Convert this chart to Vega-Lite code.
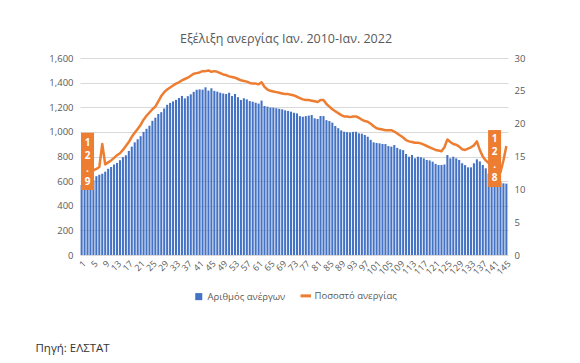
{
"$schema": "https://vega.github.io/schema/vega-lite/v6.json",
"width": 428, "height": 197,
"autosize": {"type": "none"},
"padding": {"left": 80, "top": 58, "right": 72, "bottom": 108},
"background": "white",
"title": {"text": "Εξέλιξη ανεργίας Ιαν. 2010-Ιαν. 2022", "font": "Open Sans", "fontSize": 12.5, "fontWeight": "normal", "color": "#595959", "offset": 8, "dx": -8, "anchor": "middle"},
"config": {"view": {"stroke": null}, "font": "Open Sans"},
"data": {"values": [
{"m":1,"u":569,"r":11.4},{"m":2,"u":578,"r":11.8},{"m":3,"u":585,"r":12.1},{"m":4,"u":595,"r":12.5},{"m":5,"u":605,"r":12.9},
{"m":6,"u":640,"r":13.1},{"m":7,"u":652,"r":13.4},{"m":8,"u":660,"r":16.9},{"m":9,"u":677,"r":13.8},{"m":10,"u":700,"r":14.1},
{"m":11,"u":715,"r":14.4},{"m":12,"u":735,"r":14.8},{"m":13,"u":748,"r":15.2},{"m":14,"u":770,"r":15.5},{"m":15,"u":795,"r":16.0},
{"m":16,"u":810,"r":16.6},{"m":17,"u":845,"r":17.2},{"m":18,"u":880,"r":18.0},{"m":19,"u":915,"r":18.6},{"m":20,"u":940,"r":19.2},
{"m":21,"u":965,"r":19.8},{"m":22,"u":1000,"r":20.6},{"m":23,"u":1025,"r":21.2},{"m":24,"u":1050,"r":21.7},{"m":25,"u":1090,"r":22.2},
{"m":26,"u":1115,"r":22.6},{"m":27,"u":1145,"r":23.4},{"m":28,"u":1160,"r":24.2},{"m":29,"u":1190,"r":24.8},{"m":30,"u":1220,"r":25.2},
{"m":31,"u":1235,"r":25.5},{"m":32,"u":1248,"r":25.8},{"m":33,"u":1260,"r":26.1},{"m":34,"u":1275,"r":26.3},{"m":35,"u":1292,"r":26.6},
{"m":36,"u":1272,"r":26.8},{"m":37,"u":1290,"r":27.0},{"m":38,"u":1305,"r":27.3},{"m":39,"u":1325,"r":27.6},{"m":40,"u":1342,"r":27.7},
{"m":41,"u":1345,"r":27.8},{"m":42,"u":1343,"r":28.0},{"m":43,"u":1362,"r":28.0},{"m":44,"u":1335,"r":28.1},{"m":45,"u":1354,"r":27.9},
{"m":46,"u":1333,"r":28.0},{"m":47,"u":1327,"r":27.9},{"m":48,"u":1318,"r":27.7},{"m":49,"u":1312,"r":27.5},{"m":50,"u":1308,"r":27.4},
{"m":51,"u":1318,"r":27.2},{"m":52,"u":1291,"r":27.1},{"m":53,"u":1308,"r":27.0},{"m":54,"u":1282,"r":26.8},{"m":55,"u":1259,"r":26.6},
{"m":56,"u":1273,"r":26.5},{"m":57,"u":1264,"r":26.4},{"m":58,"u":1250,"r":26.2},{"m":59,"u":1245,"r":26.1},{"m":60,"u":1237,"r":26.1},
{"m":61,"u":1230,"r":26.0},{"m":62,"u":1254,"r":26.3},{"m":63,"u":1210,"r":25.6},{"m":64,"u":1205,"r":25.2},{"m":65,"u":1198,"r":25.0},
{"m":66,"u":1197,"r":24.9},{"m":67,"u":1192,"r":24.8},{"m":68,"u":1188,"r":24.7},{"m":69,"u":1183,"r":24.6},{"m":70,"u":1175,"r":24.5},
{"m":71,"u":1170,"r":24.5},{"m":72,"u":1164,"r":24.4},{"m":73,"u":1155,"r":24.3},{"m":74,"u":1150,"r":24.1},{"m":75,"u":1128,"r":23.9},
{"m":76,"u":1123,"r":23.7},{"m":77,"u":1128,"r":23.6},{"m":78,"u":1132,"r":23.6},{"m":79,"u":1137,"r":23.5},{"m":80,"u":1110,"r":23.4},
{"m":81,"u":1105,"r":23.3},{"m":82,"u":1129,"r":23.6},{"m":83,"u":1128,"r":23.6},{"m":84,"u":1095,"r":23.0},{"m":85,"u":1088,"r":22.6},
{"m":86,"u":1075,"r":22.2},{"m":87,"u":1048,"r":21.9},{"m":88,"u":1030,"r":21.6},{"m":89,"u":1012,"r":21.3},{"m":90,"u":1001,"r":21.1},
{"m":91,"u":998,"r":21.1},{"m":92,"u":995,"r":21.0},{"m":93,"u":1000,"r":21.1},{"m":94,"u":1001,"r":21.1},{"m":95,"u":988,"r":20.9},
{"m":96,"u":985,"r":20.6},{"m":97,"u":975,"r":20.4},{"m":98,"u":961,"r":20.3},{"m":99,"u":935,"r":20.0},{"m":100,"u":915,"r":19.6},
{"m":101,"u":910,"r":19.3},{"m":102,"u":907,"r":19.2},{"m":103,"u":902,"r":19.1},{"m":104,"u":901,"r":19.0},{"m":105,"u":885,"r":19.0},
{"m":106,"u":880,"r":19.0},{"m":107,"u":893,"r":18.8},{"m":108,"u":870,"r":18.5},{"m":109,"u":858,"r":18.2},{"m":110,"u":852,"r":17.9},
{"m":111,"u":820,"r":17.5},{"m":112,"u":798,"r":17.3},{"m":113,"u":812,"r":17.2},{"m":114,"u":785,"r":17.1},{"m":115,"u":798,"r":17.1},
{"m":116,"u":794,"r":17.0},{"m":117,"u":785,"r":16.8},{"m":118,"u":772,"r":16.6},{"m":119,"u":768,"r":16.4},{"m":120,"u":758,"r":16.2},
{"m":121,"u":740,"r":16.0},{"m":122,"u":731,"r":15.9},{"m":123,"u":731,"r":15.8},{"m":124,"u":735,"r":16.4},{"m":125,"u":812,"r":17.6},
{"m":126,"u":785,"r":17.2},{"m":127,"u":798,"r":16.9},{"m":128,"u":785,"r":16.8},{"m":129,"u":772,"r":16.5},{"m":130,"u":745,"r":16.1},
{"m":131,"u":730,"r":16.0},{"m":132,"u":712,"r":16.2},{"m":133,"u":712,"r":16.4},{"m":134,"u":745,"r":16.7},{"m":135,"u":777,"r":17.3},
{"m":136,"u":760,"r":16.0},{"m":137,"u":731,"r":15.0},{"m":138,"u":704,"r":14.4},{"m":139,"u":660,"r":14.0},{"m":140,"u":623,"r":13.6},
{"m":141,"u":610,"r":13.2},{"m":142,"u":600,"r":12.9},{"m":143,"u":595,"r":12.6},{"m":144,"u":582,"r":14.4},{"m":145,"u":580,"r":16.6}
]},
"encoding": {
  "x": {"field": "m", "type": "ordinal",
        "scale": {"paddingInner": 0.3, "paddingOuter": 0.2},
        "axis": {"title": "Πηγή: ΕΛΣΤΑΤ", "titleX": -45, "titleY": 93, "titleAlign": "left", "titleBaseline": "middle", "titleFont": "Open Sans", "titleFontSize": 11.5, "titleFontWeight": "normal", "titleColor": "#333333",
                 "values": [1,5,9,13,17,21,25,29,33,37,41,45,49,53,57,61,65,69,73,77,81,85,89,93,97,101,105,109,113,117,121,125,129,133,137,141,145],
                 "labelAngle": -45, "labelFontSize": 9, "labelColor": "#595959", "labelPadding": 4, "labelOverlap": false, "ticks": false, "domain": false, "grid": false}}
},
"layer": [
  {"mark": {"type": "bar"},
   "encoding": {
     "y": {"field": "u", "type": "quantitative", "scale": {"domain": [0, 1600]},
           "axis": {"title": null, "values": [0,200,400,600,800,1000,1200,1400,1600], "format": ",d", "labelFontSize": 9.5, "labelColor": "#595959", "labelPadding": 7, "ticks": false, "domain": false, "grid": true, "gridColor": "#d9d9d9", "gridWidth": 1}},
     "color": {"datum": "Αριθμός ανέργων", "type": "nominal",
               "scale": {"domain": ["Αριθμός ανέργων", "Ποσοστό ανεργίας"], "range": ["#4472c4", "#ed7d31"]},
               "legend": {"title": null, "orient": "none", "direction": "horizontal", "legendX": 114, "legendY": 233,
                          "labelFont": "Open Sans", "labelFontSize": 9.5, "labelColor": "#595959", "columnPadding": 8, "symbolSize": 60, "labelOffset": 4,
                          "encode": {"symbols": {"update": {
                            "shape": {"signal": "datum.value === 'Ποσοστό ανεργίας' ? 'stroke' : 'square'"},
                            "size": {"signal": "datum.value === 'Ποσοστό ανεργίας' ? 110 : 50"},
                            "fill": {"signal": "datum.value === 'Ποσοστό ανεργίας' ? 'transparent' : '#4472c4'"},
                            "stroke": {"signal": "datum.value === 'Ποσοστό ανεργίας' ? '#ed7d31' : '#4472c4'"},
                            "strokeWidth": {"signal": "datum.value === 'Ποσοστό ανεργίας' ? 3 : 0"}}}}}}
   }},
  {"mark": {"type": "line", "strokeWidth": 2.5, "strokeJoin": "round"},
   "encoding": {
     "y": {"field": "r", "type": "quantitative", "scale": {"domain": [0, 30]},
           "axis": {"orient": "right", "title": null, "values": [0,5,10,15,20,25,30], "labelFontSize": 9.5, "labelColor": "#595959", "labelPadding": 6, "ticks": false, "domain": false, "grid": false}},
     "color": {"datum": "Ποσοστό ανεργίας", "type": "nominal"}
   }},
  {"data": {"values": [{"m": 3, "lo": 528, "hi": 993}, {"m": 141, "lo": 552, "hi": 1015}]},
   "mark": {"type": "bar", "width": 13, "color": "#ed7d31"},
   "encoding": {
     "y": {"field": "lo", "type": "quantitative", "scale": {"domain": [0, 1600]}, "axis": null},
     "y2": {"field": "hi"}
   }},
  {"data": {"values": [{"m": 3, "top": 910, "lbl": ["1", "2", ".", "9"]}, {"m": 141, "top": 942, "lbl": ["1", "2", ".", "8"]}]},
   "mark": {"type": "text", "color": "white", "fontSize": 10, "fontWeight": "bold", "lineHeight": 13, "baseline": "middle", "align": "center"},
   "encoding": {
     "y": {"field": "top", "type": "quantitative", "scale": {"domain": [0, 1600]}, "axis": null},
     "text": {"field": "lbl"}
   }}
],
"resolve": {"scale": {"y": "independent"}}
}
